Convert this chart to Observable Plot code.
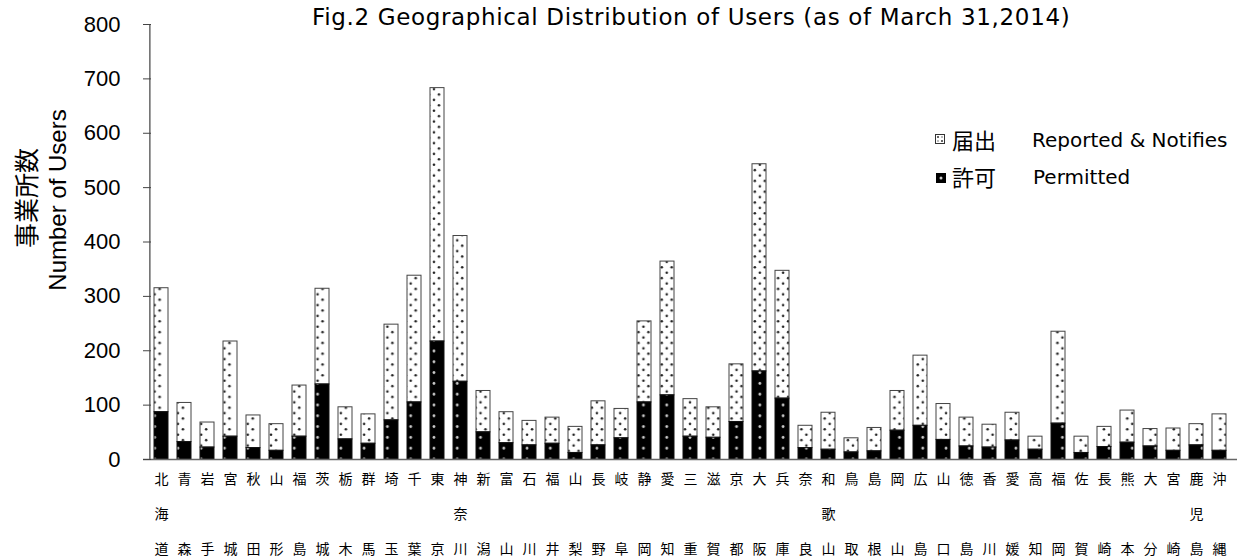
<!DOCTYPE html>
<html>
<head>
<meta charset="utf-8">
<script src="https://cdn.jsdelivr.net/npm/d3@7"></script>
<script src="https://cdn.jsdelivr.net/npm/@observablehq/plot@0.6"></script>
<style>
  html, body { margin: 0; padding: 0; background: #fff; }
  #wrap { position: relative; width: 1237px; height: 559px; overflow: hidden; }
  .abs { position: absolute; white-space: nowrap; color: #000; }
  #title { left: 312px; top: 4px; font: 23px 'DejaVu Sans', 'Noto Sans CJK JP', sans-serif; letter-spacing: 0.65px; }
  .ylab { transform-origin: center center; transform: translate(-50%, -50%) rotate(-90deg); }
  #ylab1 { left: 25px; top: 198px; font: 25px 'Noto Sans CJK JP', sans-serif; }
  #ylab2 { left: 58px; top: 200px; font: 24px 'Liberation Sans', sans-serif; }
  .leg { font: 20px 'DejaVu Sans', 'Noto Sans CJK JP', sans-serif; }
  .leg.jp { font-family: 'Noto Sans CJK JP', sans-serif; font-size: 22px; }
</style>
</head>
<body>
<div id="wrap">
  <div id="chart"></div>
  <div class="abs" id="title">Fig.2 Geographical Distribution of Users (as of March 31,2014)</div>
  <div class="abs ylab" id="ylab1">事業所数</div>
  <div class="abs ylab" id="ylab2">Number of Users</div>
  <svg class="abs" style="left:935px;top:134px" width="10" height="10"><rect x="0.5" y="0.5" width="9" height="9" fill="#fff" stroke="#333"/><circle cx="3" cy="3" r="1" fill="#333"/><circle cx="7" cy="7" r="1" fill="#333"/><circle cx="3" cy="7" r="0.8" fill="#666"/><circle cx="7" cy="3" r="0.8" fill="#666"/></svg>
  <svg class="abs" style="left:936px;top:173px" width="10" height="10"><rect x="0" y="0" width="10" height="10" fill="#000"/><circle cx="5" cy="5" r="1.5" fill="#ccc"/></svg>
  <div class="abs leg jp" style="left:952px;top:123px">届出</div>
  <div class="abs leg" style="left:1032px;top:128px">Reported &amp; Notifies</div>
  <div class="abs leg jp" style="left:952px;top:160px">許可</div>
  <div class="abs leg" style="left:1033px;top:165px">Permitted</div>
</div>
<script>
const prefectures = ["北海道","青森","岩手","宮城","秋田","山形","福島","茨城","栃木","群馬","埼玉","千葉","東京","神奈川","新潟","富山","石川","福井","山梨","長野","岐阜","静岡","愛知","三重","滋賀","京都","大阪","兵庫","奈良","和歌山","鳥取","島根","岡山","広島","山口","徳島","香川","愛媛","高知","福岡","佐賀","長崎","熊本","大分","宮崎","鹿児島","沖縄"];
const permitted = [87,32,22,42,21,16,42,138,37,29,72,105,217,143,50,30,26,29,12,26,39,105,118,42,40,69,162,112,21,18,13,15,53,62,36,24,22,35,18,66,12,23,31,24,16,26,16];
const reported = [228,72,46,175,60,49,94,176,59,54,176,233,466,268,76,57,45,48,48,81,54,149,246,69,56,106,381,235,41,68,26,43,73,129,66,53,42,51,24,169,30,37,59,32,41,39,67];
const yTicks = [0,100,200,300,400,500,600,700,800];

const W = 1237, H = 559, ML = 143, MR = 0, MT = 24, MB = 100;
const step = (W - ML - MR) / prefectures.length;

const table = prefectures.map((p, i) => ({
  pref: p,
  p0: 0, p1: permitted[i],
  r0: permitted[i], r1: permitted[i] + reported[i]
}));

function label(name) {
  const c = Array.from(name);
  const first = c[0], last = c[c.length - 1];
  const mid = c.length === 3 ? c[1] : " ";
  return first + "\n" + mid + "\n" + last;
}

function defs() {
  const d = d3.create("svg:defs");
  const rp = d.append("pattern").attr("id", "rep").attr("patternUnits", "userSpaceOnUse")
    .attr("x", ML).attr("y", 0).attr("width", step).attr("height", 10.8);
  rp.append("rect").attr("width", step).attr("height", 10.8).attr("fill", "#fff");
  rp.append("circle").attr("cx", step / 2).attr("cy", 2.7).attr("r", 1.3).attr("fill", "#222");
  rp.append("circle").attr("cx", step / 2 - 5).attr("cy", 8.1).attr("r", 1.3).attr("fill", "#222");
  rp.append("circle").attr("cx", step / 2 + 5).attr("cy", 8.1).attr("r", 1.3).attr("fill", "#222");
  const pp = d.append("pattern").attr("id", "perm").attr("patternUnits", "userSpaceOnUse")
    .attr("x", ML).attr("y", 0).attr("width", step).attr("height", 10.8);
  pp.append("rect").attr("width", step).attr("height", 10.8).attr("fill", "#000");
  pp.append("circle").attr("cx", step / 2).attr("cy", 5.4).attr("r", 1.4).attr("fill", "#ccc");
  return d.node();
}

const chart = Plot.plot({
  width: W, height: H,
  marginLeft: ML, marginRight: MR, marginTop: MT, marginBottom: MB,
  style: { fontFamily: "'Liberation Sans', 'Noto Sans CJK JP', sans-serif", color: "#000", background: "transparent" },
  x: { domain: prefectures, paddingInner: 0.4, paddingOuter: 0.2, label: null },
  y: { domain: [0, 800], label: null },
  marks: [
    defs,
    Plot.barY(table, { x: "pref", y1: "r0", y2: "r1", fill: "url(#rep)", stroke: "#444", strokeWidth: 1 }),
    Plot.barY(table, { x: "pref", y1: "p0", y2: "p1", fill: "url(#perm)", stroke: "#111", strokeWidth: 1 }),
    Plot.ruleY([0], { stroke: "#666", strokeWidth: 1.5 }),
    Plot.ruleX([prefectures[0]], { y1: 0, y2: 800, dx: -step / 2, stroke: "#666", strokeWidth: 1.5 }),
    Plot.axisY({ ticks: yTicks, tickSize: 0, tickPadding: 23, fontSize: 22, label: null }),
    Plot.axisY({ ticks: yTicks, tickSize: 8, dx: 8, text: null, stroke: "#444", label: null }),
    Plot.axisX({ tickSize: 0, tickPadding: 0, fontSize: 14, lineHeight: 2.5, tickFormat: label, fontFamily: "'Noto Sans CJK JP', sans-serif", label: null })
  ]
});
document.getElementById("chart").appendChild(chart);
</script>
</body>
</html>
